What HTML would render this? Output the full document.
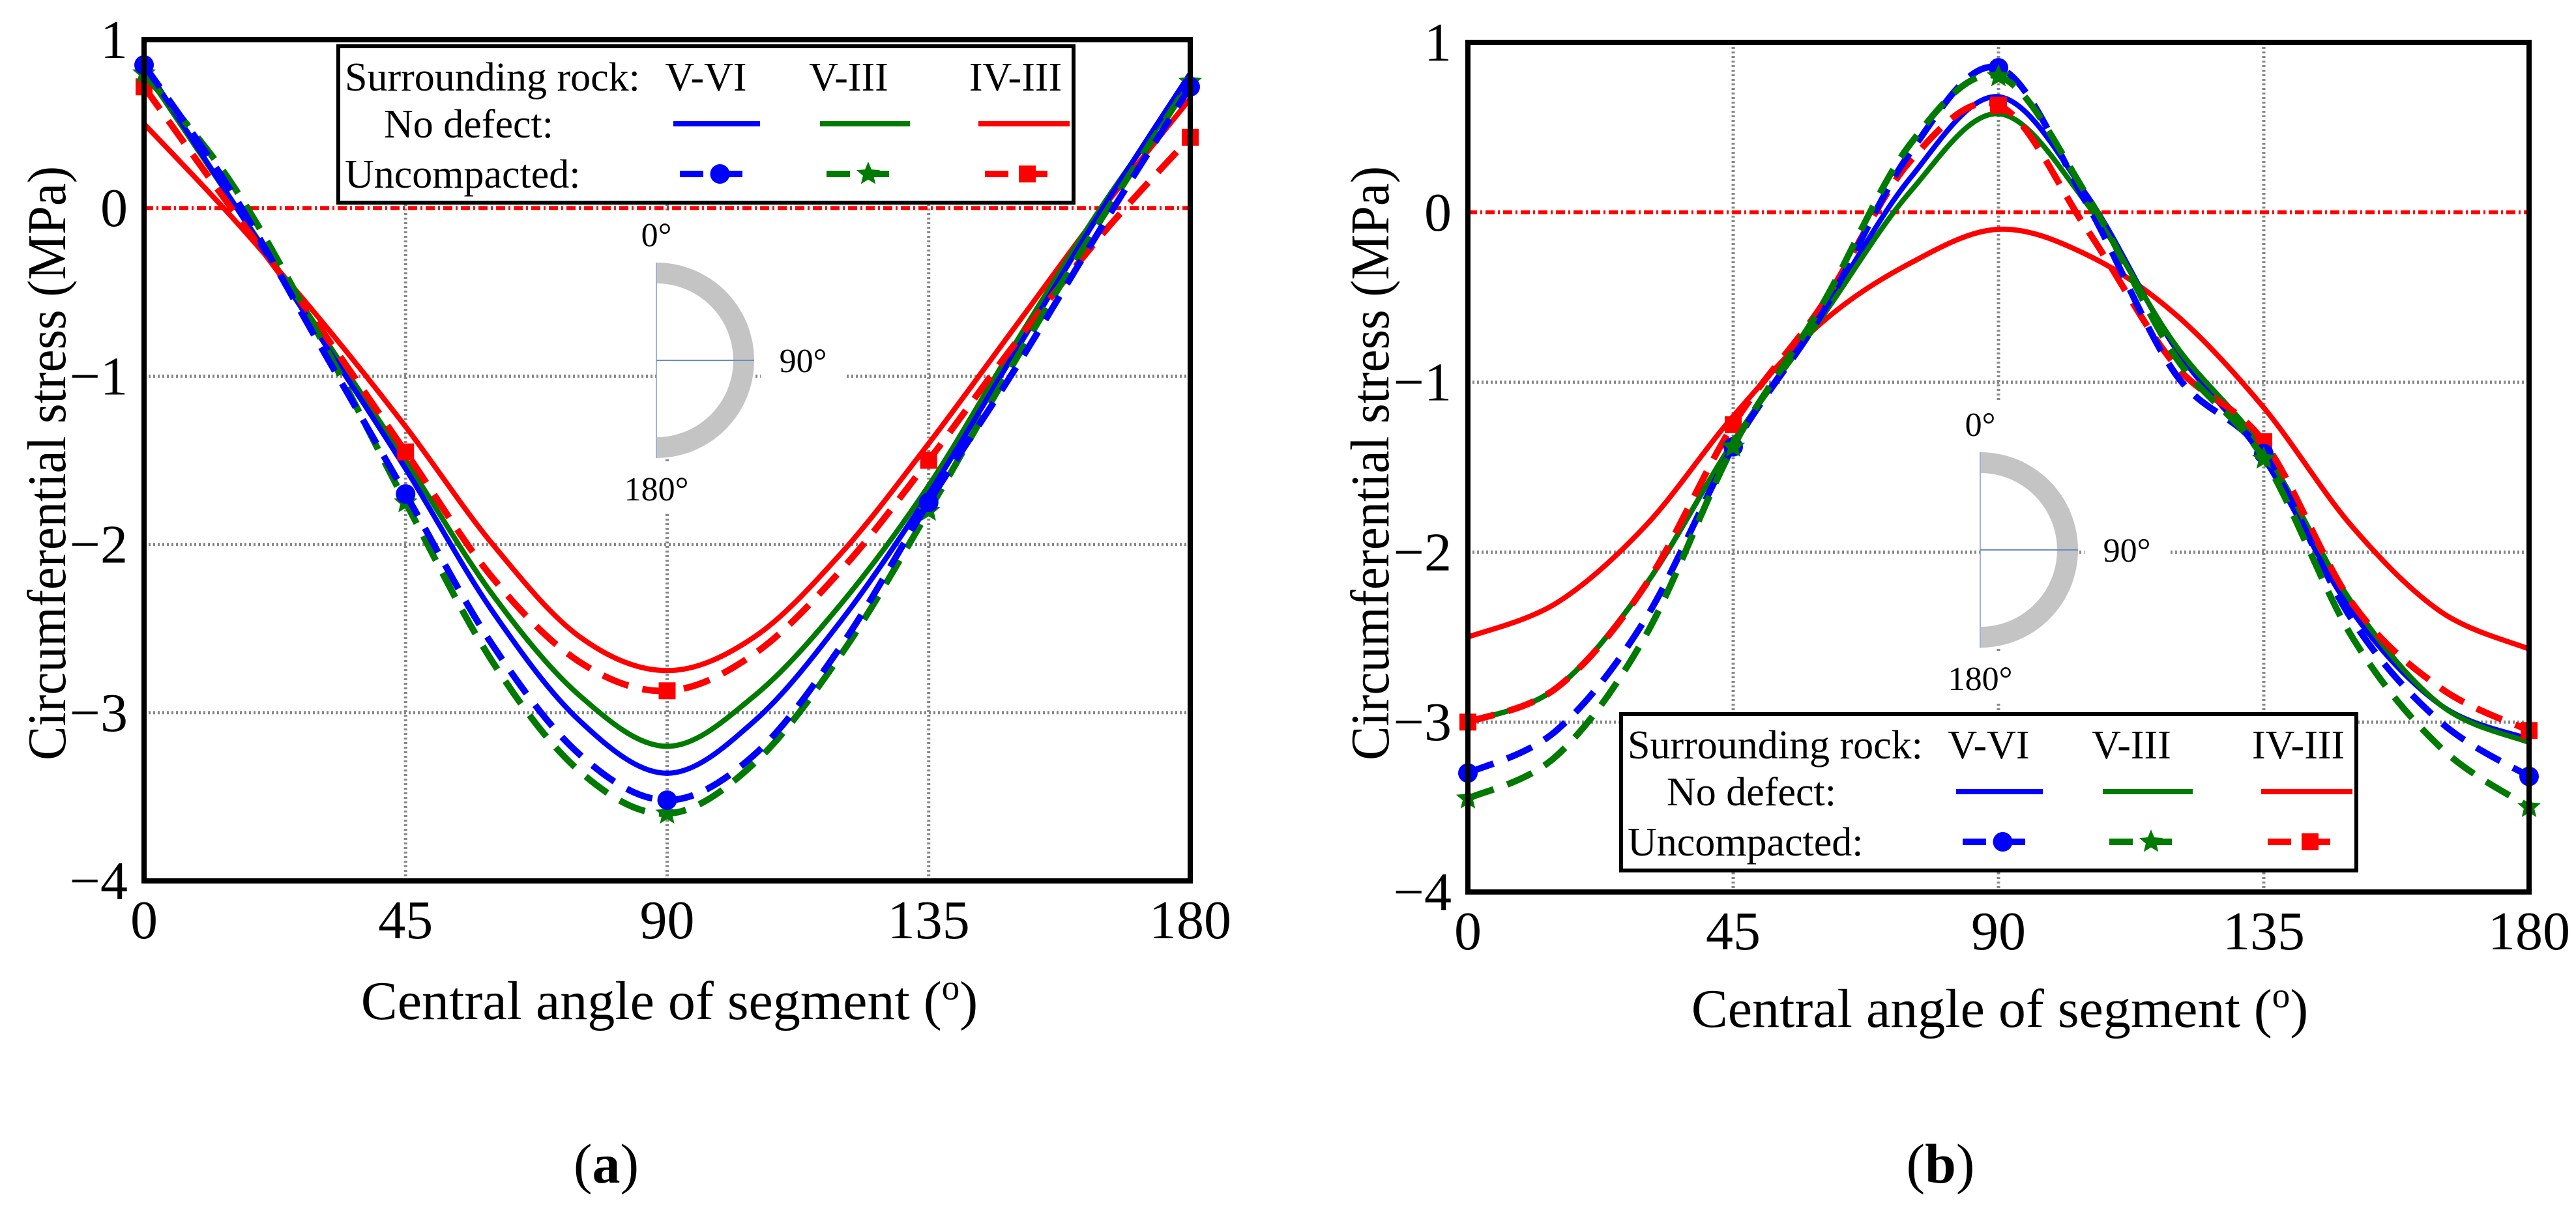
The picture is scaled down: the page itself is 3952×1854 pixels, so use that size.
<!DOCTYPE html>
<html><head><meta charset="utf-8"><style>
html,body{margin:0;padding:0;background:#fff}
svg{display:block}
text{font-family:"Liberation Serif",serif;fill:#000}
</style></head><body>
<svg id="fig" width="3952" height="1854" viewBox="0 0 3952 1854" xmlns="http://www.w3.org/2000/svg"></svg>
<script>
const angles = [0,15,30,45,60,75,90,105,120,135,150,165,180];
const markerAngles = [0,45,90,135,180];
const yTicks = [1,0,-1,-2,-3,-4];
const yTickLabels = ["1","0","\u22121","\u22122","\u22123","\u22124"];
const xTicks = [0,45,90,135,180];
const xTickLabels = ["0","45","90","135","180"];
// Panel (a)
const aBlueSolid  = [0.85,0.05,-0.75,-1.55,-2.4,-3.05,-3.36,-3.05,-2.45,-1.7,-0.85,0.0,0.8];
const aGreenSolid = [0.82,0.05,-0.72,-1.5,-2.3,-2.9,-3.2,-2.9,-2.35,-1.65,-0.8,0.02,0.75];
const aRedSolid   = [0.5,-0.05,-0.65,-1.3,-2.0,-2.55,-2.75,-2.55,-2.05,-1.4,-0.7,0.0,0.65];
const aBlueDash   = [0.85,0.1,-0.8,-1.7,-2.6,-3.25,-3.52,-3.25,-2.6,-1.75,-0.95,-0.1,0.72];
const aGreenDash  = [0.8,0.15,-0.75,-1.75,-2.7,-3.35,-3.6,-3.3,-2.65,-1.8,-0.9,-0.05,0.75];
const aRedDash    = [0.72,0.0,-0.7,-1.45,-2.2,-2.7,-2.87,-2.65,-2.15,-1.5,-0.8,-0.15,0.42];
// Panel (b)
const bBlueSolid  = [-3.0,-2.8,-2.2,-1.35,-0.6,0.2,0.68,0.1,-0.8,-1.45,-2.35,-2.9,-3.1];
const bGreenSolid = [-3.0,-2.8,-2.2,-1.35,-0.62,0.12,0.58,0.05,-0.78,-1.4,-2.3,-2.9,-3.12];
const bRedSolid   = [-2.5,-2.3,-1.85,-1.2,-0.65,-0.3,-0.1,-0.25,-0.6,-1.15,-1.85,-2.35,-2.57];
const bBlueDash   = [-3.3,-3.05,-2.4,-1.38,-0.6,0.35,0.85,0.05,-0.95,-1.42,-2.4,-3.0,-3.32];
const bGreenDash  = [-3.45,-3.2,-2.5,-1.38,-0.55,0.4,0.8,0.1,-0.85,-1.45,-2.5,-3.15,-3.5];
const bRedDash    = [-3.0,-2.8,-2.2,-1.25,-0.55,0.3,0.63,-0.1,-0.9,-1.35,-2.3,-2.8,-3.05];

const NS="http://www.w3.org/2000/svg";
const svg=document.getElementById('fig');
function el(tag,attrs,parent){const e=document.createElementNS(NS,tag);for(const k in attrs)e.setAttribute(k,attrs[k]);(parent||svg).appendChild(e);return e;}
function txt(s,attrs,parent){const t=el('text',attrs,parent);t.textContent=s;return t;}
function smooth(pts){let d=`M${pts[0][0]},${pts[0][1]}`;for(let i=0;i<pts.length-1;i++){const p0=pts[Math.max(0,i-1)],p1=pts[i],p2=pts[i+1],p3=pts[Math.min(pts.length-1,i+2)];const c1=[p1[0]+(p2[0]-p0[0])/6,p1[1]+(p2[1]-p0[1])/6],c2=[p2[0]-(p3[0]-p1[0])/6,p2[1]-(p3[1]-p1[1])/6];d+=` C${c1[0]},${c1[1]} ${c2[0]},${c2[1]} ${p2[0]},${p2[1]}`;}return d;}
function star(cx,cy,r){let p=[];for(let i=0;i<10;i++){const a=-Math.PI/2+i*Math.PI/5,rr=i%2?r*0.45:r;p.push((cx+rr*Math.cos(a)).toFixed(1)+','+(cy+rr*Math.sin(a)).toFixed(1));}return p.join(' ');}
function marker(g,type,color,x,y){
  let m;
  if(type==='circle')m=el('circle',{cx:x,cy:y,r:15,fill:color},g);
  else if(type==='star')m=el('polygon',{points:star(x,y,19),fill:color},g);
  else m=el('rect',{x:x-13,y:y-13,width:26,height:26,fill:color},g);
  return m;
}

function panel(id,L,R,T,B,series,legendX,legendY,inset,label,labelX,yTitleX,xTitleX,xTitleY){
  const g=el('g',{});
  
  
  const X=v=>L+(v-0)/180*(R-L);
  const Y=v=>T+(1-v)/5*(B-T);
  const grid=el('g',{},g);
  
  
  [45,90,135].forEach(v=>el('line',{x1:X(v),x2:X(v),y1:T,y2:B,stroke:'#888','stroke-width':5,'stroke-dasharray':'3 4'},grid));
  [-1,-2,-3].forEach(v=>el('line',{x1:L,x2:R,y1:Y(v),y2:Y(v),stroke:'#888','stroke-width':5,'stroke-dasharray':'3 4'},grid));
  const zl=el('line',{x1:L,x2:R,y1:Y(0),y2:Y(0),stroke:'#ff0000','stroke-width':6,'stroke-dasharray':'14 5 3 5'},g);
  
  
  const ig=el('g',{},g);
  
  
  const cx=inset[0],cy=inset[1],Ro=150,Ri=118;
  el('rect',{x:cx-60,y:cy-Ro-80,width:135,height:80,fill:'#fff'},ig);
  el('rect',{x:cx+Ro+10,y:cy-45,width:130,height:85,fill:'#fff'},ig);
  el('rect',{x:cx-60,y:cy+Ro+5,width:155,height:80,fill:'#fff'},ig);
  el('rect',{x:cx,y:cy-Ro,width:Ro,height:2*Ro,fill:'#fff'},ig);
  el('path',{d:`M${cx},${cy-Ro} A${Ro},${Ro} 0 0 1 ${cx},${cy+Ro} L${cx},${cy+Ri} A${Ri},${Ri} 0 0 0 ${cx},${cy-Ri} Z`,fill:'#c4c4c4'},ig);
  el('line',{x1:cx,x2:cx,y1:cy-Ro,y2:cy+Ro,stroke:'#9db3d6','stroke-width':2},ig);
  el('line',{x1:cx,x2:cx+Ro,y1:cy,y2:cy,stroke:'#6a8cc4','stroke-width':2},ig);
  txt('0°',{x:cx,y:cy-Ro-25,'font-size':52,'text-anchor':'middle',fill:'#333'},ig);
  txt('90°',{x:cx+Ro+75,y:cy+18,'font-size':52,'text-anchor':'middle',fill:'#333'},ig);
  txt('180°',{x:cx,y:cy+Ro+65,'font-size':52,'text-anchor':'middle',fill:'#333'},ig);
  series.forEach(s=>{
    const sg=el('g',{},g);
    
    
    const pts=angles.map((a,i)=>[X(a),Y(s.vals[i])]);
    el('path',{d:smooth(pts),fill:'none',stroke:s.color,'stroke-width':s.dash?10:8,'stroke-dasharray':s.dash?'42 22':'none'},sg);
    if(s.marker){markerAngles.forEach(a=>{const i=angles.indexOf(a);const m=marker(sg,s.marker,s.color,X(a),Y(s.vals[i]));
      
      });}
  });
  const box=el('rect',{x:L,y:T,width:R-L,height:B-T,fill:'none',stroke:'#000','stroke-width':8},g);
  
  
  yTicks.forEach((v,i)=>{const t=txt(yTickLabels[i],{x:L-25,y:Y(v)+28,'font-size':84,'text-anchor':'end'},g);
    
    });
  xTicks.forEach((v,i)=>{const t=txt(xTickLabels[i],{x:X(v),y:B+88,'font-size':84,'text-anchor':'middle'},g);
    
    });
  const yt=txt('Circumferential stress (MPa)',{x:0,y:0,'font-size':84,'text-anchor':'middle',transform:`translate(${yTitleX},711) rotate(-90)`,textLength:912,lengthAdjust:'spacingAndGlyphs'},g);
  
  
  const xt=txt('Central angle of segment (',{x:xTitleX,y:xTitleY,'font-size':84,'text-anchor':'middle'},g);
  const sup=el('tspan',{dy:-30,'font-size':55},xt);sup.textContent='o';
  const cl=el('tspan',{dy:30},xt);cl.textContent=')';
  
  
  const pl=txt('',{x:labelX,y:1815,'font-size':86,'text-anchor':'middle'},g);
  pl.appendChild(document.createTextNode('('));
  const bt=el('tspan',{'font-weight':'bold'},pl);bt.textContent=id;
  pl.appendChild(document.createTextNode(')'));
  
  
  const lg=el('g',{transform:`translate(${legendX},${legendY})`},g);
  
  
  el('rect',{x:0,y:0,width:1128,height:240,fill:'#fff',stroke:'#000','stroke-width':6},lg);
  txt('Surrounding rock:',{x:10,y:68,'font-size':62},lg);
  txt('V-VI',{x:564,y:68,'font-size':62,'text-anchor':'middle'},lg);
  txt('V-III',{x:783,y:68,'font-size':62,'text-anchor':'middle'},lg);
  txt('IV-III',{x:1039,y:68,'font-size':62,'text-anchor':'middle'},lg);
  txt('No defect:',{x:70,y:140,'font-size':62},lg);
  txt('Uncompacted:',{x:10,y:217,'font-size':62},lg);
  const cols=[[514,647,'#0000ff','circle'],[739,877,'#007a00','star'],[982,1122,'#ff0000','square']];
  cols.forEach(c=>{
    el('line',{x1:c[0],x2:c[1],y1:119,y2:119,stroke:c[2],'stroke-width':8},lg);
    el('line',{x1:c[0]+10,x2:c[1]-10,y1:196,y2:196,stroke:c[2],'stroke-width':10,'stroke-dasharray':'36 24'},lg);
    marker(lg,c[3],c[2],(c[0]+c[1])/2+5,196);
  });
}
panel('a',221,1826,61,1352,[
  {name:'a-red-no-defect',vals:aRedSolid,color:'#ff0000'},
  {name:'a-green-no-defect',vals:aGreenSolid,color:'#007a00'},
  {name:'a-blue-no-defect',vals:aBlueSolid,color:'#0000ff'},
  {name:'a-red-uncompacted',vals:aRedDash,color:'#ff0000',dash:1,marker:'square'},
  {name:'a-green-uncompacted',vals:aGreenDash,color:'#007a00',dash:1,marker:'star'},
  {name:'a-blue-uncompacted',vals:aBlueDash,color:'#0000ff',dash:1,marker:'circle'}
],519,71,[1007,553],'a',930,100,1027,1564);
panel('b',2252,3880,65,1369,[
  {name:'b-red-no-defect',vals:bRedSolid,color:'#ff0000'},
  {name:'b-blue-no-defect',vals:bBlueSolid,color:'#0000ff'},
  {name:'b-green-no-defect',vals:bGreenSolid,color:'#007a00'},
  {name:'b-red-uncompacted',vals:bRedDash,color:'#ff0000',dash:1,marker:'square'},
  {name:'b-blue-uncompacted',vals:bBlueDash,color:'#0000ff',dash:1,marker:'circle'},
  {name:'b-green-uncompacted',vals:bGreenDash,color:'#007a00',dash:1,marker:'star'}
],2487,1096,[3038,844],'b',2977,2130,3068,1576);
</script>
</body></html>
